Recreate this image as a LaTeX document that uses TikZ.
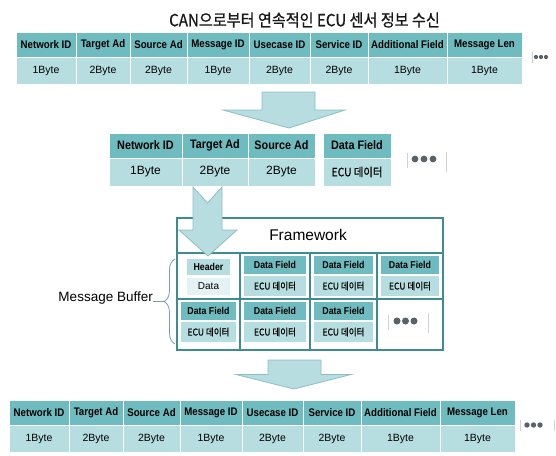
\documentclass[tikz,border=0pt]{standalone}
\usepackage{fontspec}
\setmainfont{Liberation Sans}
\newfontfamily\narrowfont[FakeStretch=0.88]{Liberation Sans}
\newfontfamily\krfont[FakeStretch=0.9,FakeBold=0.8]{Noto Sans CJK KR}
\usetikzlibrary{decorations.pathreplacing}

\definecolor{tealhead}{RGB}{110,188,192}
\definecolor{tealdata}{RGB}{182,222,225}
\definecolor{tealpale}{RGB}{228,242,243}
\definecolor{tealframe}{RGB}{62,140,144}
\definecolor{arrowfill}{RGB}{183,221,224}
\definecolor{arrowline}{RGB}{140,190,195}
\definecolor{dotgray}{RGB}{88,98,104}
\definecolor{bracecol}{RGB}{120,160,163}

\begin{document}
\begin{tikzpicture}[x=1pt,y=-1pt]

% area del disegno
\useasboundingbox (0,0) rectangle (556,455);

% definizione delle celle delle tabelle
\tikzset{myhead/.style={rectangle, fill=tealhead, draw=white, line width=1pt, inner sep=0pt, font=\narrowfont\bfseries\fontsize{#1}{#1}\selectfont}, myhead/.default=11}
\tikzset{mydata/.style={rectangle, fill=tealdata, draw=white, line width=1pt, inner sep=0pt, font=\fontsize{#1}{#1}\selectfont}, mydata/.default=10.5}
% definizione di puntini, barre e frecce
\tikzset{mydot/.style={fill=dotgray, draw=none}}
\tikzset{mybar/.style={draw=black!18, line width=0.8pt}}
\tikzset{myarrow/.style={fill=arrowfill, draw=arrowline, line width=0.8pt}}

% titolo
\node[font=\krfont\fontsize{16.8}{16.8}\selectfont, text=black!90] (title) at (304.5,20) {CAN으로부터 연속적인 ECU 센서 정보 수신};

% tabella in alto (t) e tabella in basso (b)
\foreach \dx/\y/\n in {0/32/t, -7/400/b}
\foreach \a/\b/\h/\d [count=\i] in {16/76/Network ID/1Byte, 76/130/Target Ad/2Byte, 130/187/Source Ad/2Byte, 187/249/Message ID/1Byte, 249/310/Usecase ID/2Byte, 310/368/Service ID/2Byte, 368/447/Additional Field/1Byte, 447/522/Message Len/1Byte}{
\node[myhead, minimum width=\b-\a, minimum height=25] (h\n\i) at ({(\a+\b)/2+\dx},\y+12.5) {\h};
\node[mydata, minimum width=\b-\a, minimum height=27] (d\n\i) at ({(\a+\b)/2+\dx},\y+38.5) {\d};
}

% tabella in mezzo
\foreach \a/\b/\h/\d [count=\i] in {109/182/Network ID/1Byte, 182/248/Target Ad/2Byte, 248/315/Source Ad/2Byte}{
\node[myhead=12.3, minimum width=\b-\a, minimum height=25] (hm\i) at ({(\a+\b)/2},145.5) {\h};
\node[mydata=12, minimum width=\b-\a, minimum height=28] (dm\i) at ({(\a+\b)/2},172) {\d};
}
\node[myhead=12.3, minimum width=68, minimum height=25] (hmf) at (357,145.5) {Data Field};
\node[mydata, font=\krfont\fontsize{11.5}{11.5}\selectfont, minimum width=68, minimum height=28] (dmf) at (357,172) {ECU 데이터};

% puntini con le barre
\draw[mybar] (532,52)--(532,63);
\foreach \x in {536,541,546} \fill[mydot] (\x,57) circle (2.1);
\draw[mybar] (407,153)--(407,168);
\draw[mybar] (446,152)--(446,172);
\foreach \x in {415,424,433} \fill[mydot] (\x,159) circle (3.4);
\draw[mybar] (520,420)--(520,431);
\draw[mybar] (554,420)--(554,431);
\foreach \x in {527,533.5,540} \fill[mydot] (\x,425) circle (2.7);

% riquadro del Framework
\node[draw=tealframe, line width=2pt, minimum width=266, minimum height=132, inner sep=0pt] (frame) at (310,284) {};
\node[font=\fontsize{15.5}{15.5}\selectfont] (fwtitle) at (308,235) {Framework};
\draw[tealframe, line width=1.5pt] (177,253) -- (443,253);
\draw[tealframe, line width=1.5pt] (177,299) -- (443,299);
\foreach \x in {240,310,377} \draw[tealframe, line width=1.5pt] (\x,253) -- (\x,350);

% celle del buffer
\foreach \a/\b/\yo [count=\i] in {240/310/0, 310/377/0, 377/443/0, 177/240/46, 240/310/46, 310/377/46}{
\node[myhead=10, draw=none, minimum width=\b-\a-8, minimum height=18] (fdf\i) at ({(\a+\b)/2},265+\yo) {Data Field};
\node[mydata, draw=none, font=\krfont\fontsize{9.5}{9.5}\selectfont, minimum width=\b-\a-8, minimum height=20] (fecu\i) at ({(\a+\b)/2},286+\yo) {ECU 데이터};
}
\node[mydata, draw=none, font=\narrowfont\bfseries\fontsize{10}{10}\selectfont, minimum width=43, minimum height=16] (hdr) at (208.5,267) {Header};
\node[mydata=10, fill=tealpale, draw=none, minimum width=43, minimum height=17] (hdata) at (208.5,286.5) {Data};
\draw[mybar] (388,315)--(388,330);
\draw[mybar] (428,313)--(428,333);
\foreach \x in {397,405.5,414} \fill[mydot] (\x,321) circle (3.5);

% parentesi del Message Buffer
\coordinate (bufTop) at (175,259);
\coordinate (bufBot) at (175,344);
\coordinate (bufTip) at (164,301.5);
\draw[decorate, decoration={brace, amplitude=11pt}, draw=bracecol, line width=0.8pt] (bufBot) -- (bufTop);
\node[anchor=base east, font=\fontsize{13.5}{13.5}\selectfont, inner sep=0pt] (buffer) at (153,301.5) {Message Buffer};
\draw[bracecol, line width=0.8pt] (buffer.base east) -- (bufTip);

% frecce
\filldraw[myarrow] (262,92) -- (315,92) -- (315,110) -- (345,110) -- (289,128) -- (223,110) -- (262,110) -- cycle;
\filldraw[myarrow] (193,187) -- (207.5,203) -- (222,187) -- (222,230) -- (237,230) -- (208,256) -- (179,230) -- (193,230) -- cycle;
\filldraw[myarrow] (268,360) -- (321,360) -- (321,374.5) -- (351,374.5) -- (294,389) -- (236,374.5) -- (268,374.5) -- cycle;

\end{tikzpicture}
\end{document}
